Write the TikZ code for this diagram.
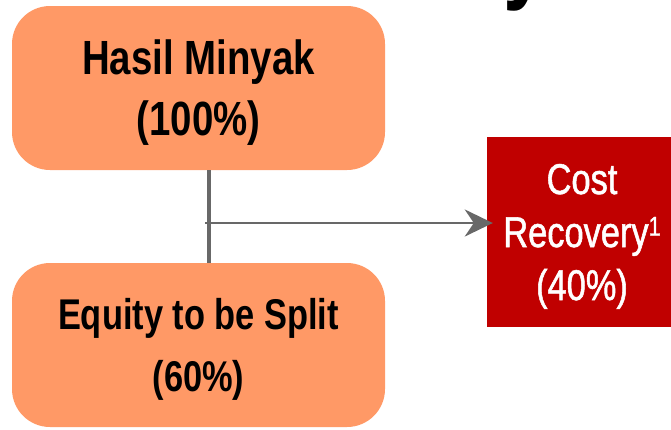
\documentclass[tikz,border=0pt]{standalone}
\usepackage{fontspec}
\setmainfont{Liberation Sans}[FakeStretch=0.8]
\newfontfamily\medfont{Liberation Sans}[FakeStretch=0.8,FakeBold=1.2]
\usepackage{tikz}
\usetikzlibrary{arrows.meta}

\definecolor{peach}{RGB}{255,153,102}
\definecolor{darkred}{RGB}{192,0,0}
\definecolor{linegray}{RGB}{104,104,104}

\newcommand{\footmark}[1]{\raisebox{11.5pt}{\fontsize{27}{27}\selectfont #1}}

\begin{document}
\begin{tikzpicture}[x=1pt,y=-1pt,
    orangebox/.style={rectangle,rounded corners=38pt,fill=peach,
      minimum width=373pt,minimum height=164pt,align=center,inner sep=0pt,
      text depth=0pt},
    redbox/.style={rectangle,fill=darkred,text=white,
      minimum width=190pt,minimum height=190pt,align=center,inner sep=0pt,
      text depth=0pt}]
    \useasboundingbox (0,0) rectangle (671,429);

    % title, cut off at the top
    \node[anchor=base west,inner sep=0pt,font=\fontsize{100}{100}\selectfont\bfseries]
      (title) at (503,-10) {y};

    \node[orangebox,font=\fontsize{48}{61}\selectfont\bfseries] (hasil) at (198.5,88)
      {Hasil Minyak\\(100\%)};
    \node[orangebox,font=\fontsize{43}{62}\selectfont\bfseries] (equity) at (198.5,345)
      {Equity to be Split\\(60\%)};
    \node[redbox,font=\fontsize{43}{53}\medfont] (cost) at (582,232)
      {Cost\\Recovery\footmark{1}\\(40\%)};

    \coordinate (branch) at (205,223);
    \coordinate (stem) at (209,223);

    \draw[linegray,line width=4pt] (hasil.south -| stem) -- (equity.north -| stem);
    \draw[linegray,line width=2.7pt,shorten >=-6pt,
      -{Stealth[length=28pt,width=27pt,inset=9pt]}] (branch) -- (branch -| cost.west);
\end{tikzpicture}
\end{document}
